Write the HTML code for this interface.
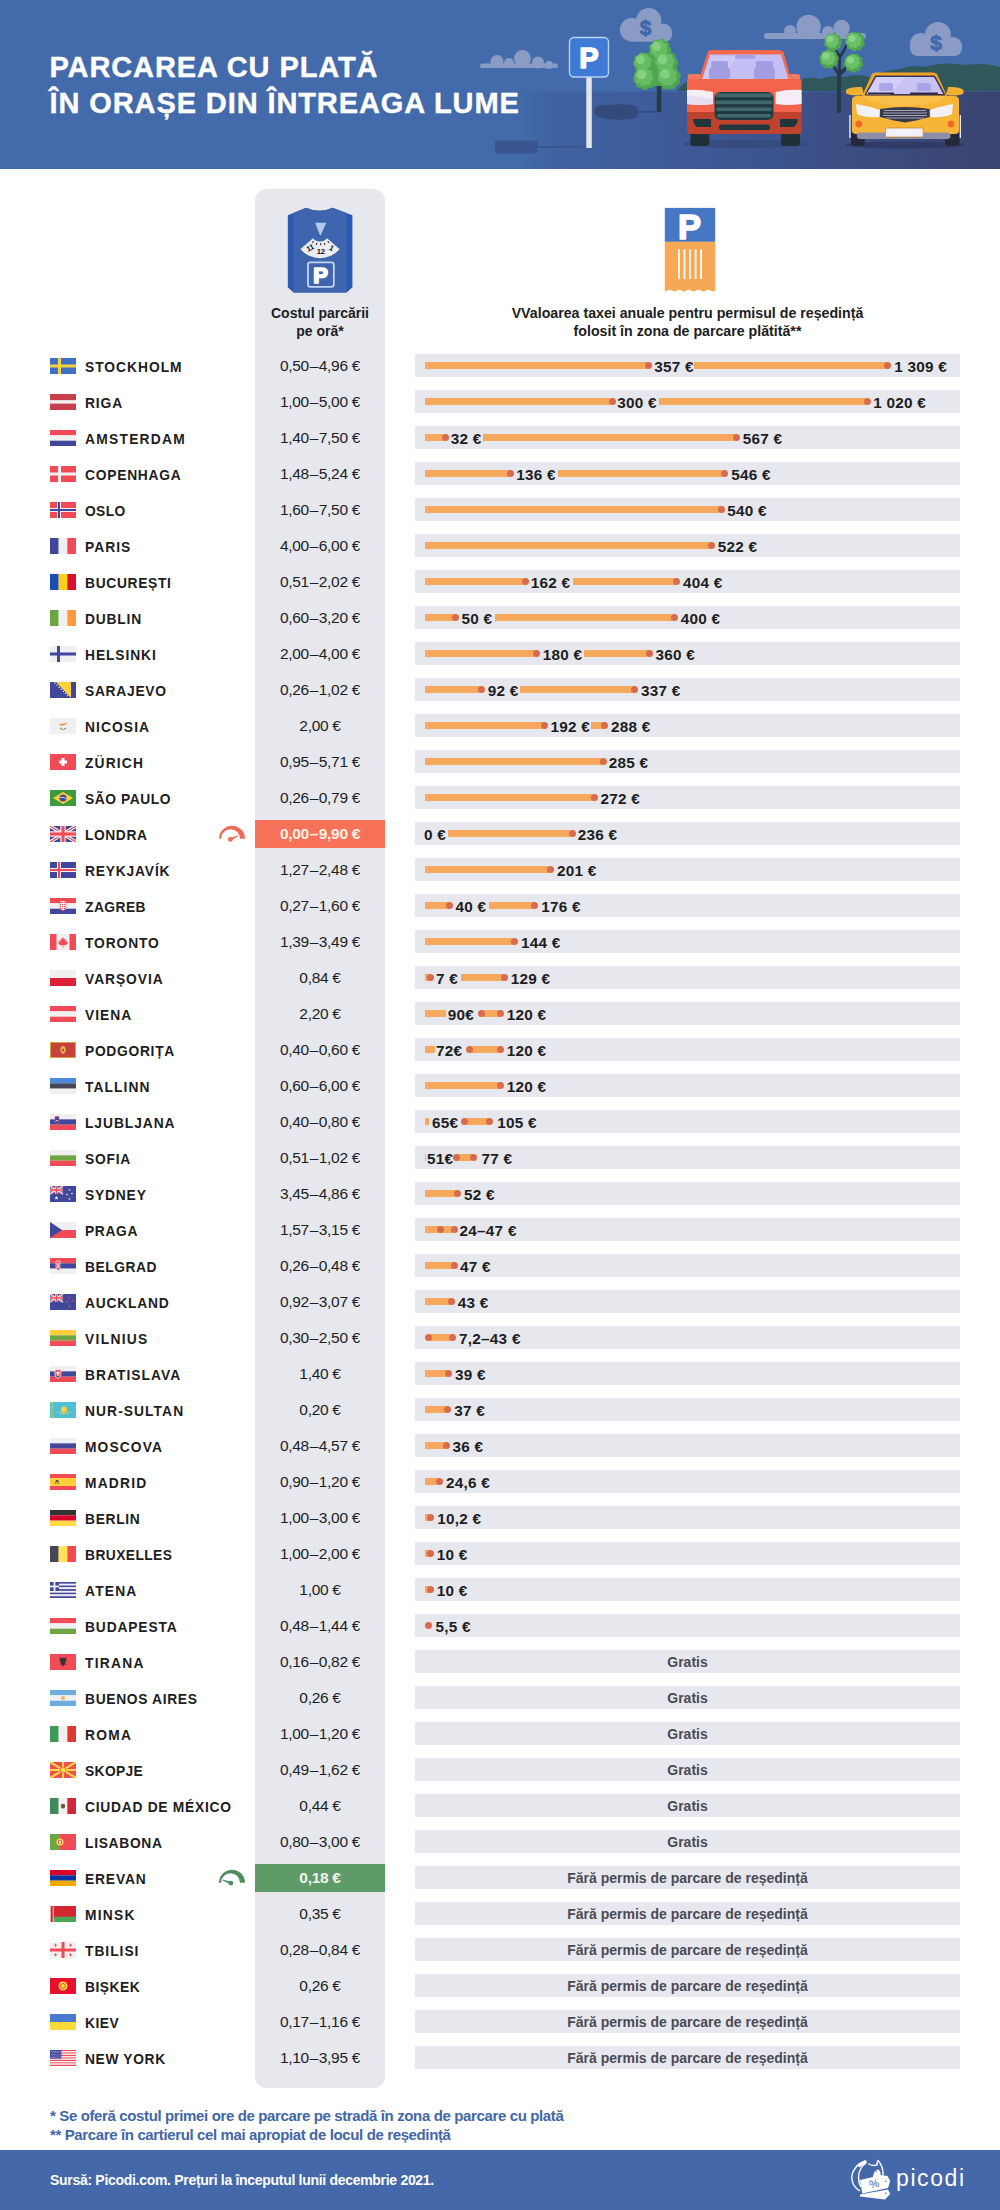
<!DOCTYPE html>
<html lang="ro"><head><meta charset="utf-8"><title>Parcarea cu plată în orașe din întreaga lume</title>
<style>
*{margin:0;padding:0;box-sizing:border-box}
html,body{width:1000px;height:2210px;overflow:hidden;background:#fff}
body{font-family:"Liberation Sans",Arial,sans-serif;color:#1d1d22}
#pg{position:relative;width:1000px;height:2210px;background:#fff}
.hdr{position:absolute;left:0;top:0;width:1000px;height:169px;background:#436aaa;overflow:hidden}
.hdr svg{position:absolute;left:0;top:0}
.title{position:absolute;left:49.5px;top:48.8px;color:#fff;-webkit-text-stroke:0.4px #fff;font-weight:bold;font-size:29px;line-height:36px;letter-spacing:0.9px;white-space:nowrap}
.col{position:absolute;left:255px;top:189px;width:130px;height:1899px;background:#e7e8ed;border-radius:12px}
.disc{position:absolute;left:287px;top:207px;width:66px;height:86px}
.ticket{position:absolute;left:664px;top:207px;width:52px;height:86px}
.h1{position:absolute;left:255px;width:130px;top:303.8px;text-align:center;font-weight:bold;font-size:14px;line-height:18px;color:#1d1d22}
.h2{position:absolute;left:415px;width:545px;top:303.8px;text-align:center;font-weight:bold;font-size:14.2px;line-height:18px;color:#1d1d22}
.row{position:absolute;left:0;width:1000px;height:36px}
.flag{position:absolute;left:50px;top:10px}
.city{position:absolute;left:85px;top:0.6px;line-height:36px;font-weight:bold;font-size:15px;transform:scaleX(0.92);transform-origin:0 50%;letter-spacing:0.45px;white-space:nowrap}
.cost{position:absolute;left:255px;width:130px;top:-0.5px;line-height:36px;text-align:center;font-size:15.5px;letter-spacing:-0.3px;white-space:nowrap}
.cost.red{top:4px;height:28px;line-height:28px;background:#f87259;color:#fdf3e6;font-weight:bold}
.cost.green{top:4px;height:28px;line-height:28px;background:#5f9b69;color:#f2f5ee;font-weight:bold}
.gauge{position:absolute;left:214px;top:8px;width:36px;height:22px}
.band{position:absolute;left:415px;top:6.2px;width:545px;height:23.2px;background:#e7e8ed}
.bar{position:absolute;top:8px;height:6.4px;background:#f6a95c}
.dot{position:absolute;top:7.7px;width:7px;height:7px;border-radius:50%;background:#d96b4c}
.lbl{position:absolute;top:0.4px;margin-left:-0.8px;line-height:23px;font-weight:bold;font-size:15.3px;letter-spacing:0.25px;white-space:nowrap;color:#1d1d22}
.ctr{position:absolute;left:0;width:545px;top:1px;line-height:23px;text-align:center;font-weight:bold;font-size:14px;color:#4a4b55}
.notes{position:absolute;left:50px;top:2105.5px;font-weight:bold;font-size:15px;line-height:19.5px;letter-spacing:-0.37px;color:#4266a6;white-space:nowrap}
.ftr{position:absolute;left:0;top:2150px;width:1000px;height:60px;background:#4468a9}
.src{position:absolute;left:50px;top:20px;line-height:20px;font-weight:bold;font-size:14px;letter-spacing:-0.3px;color:#fff;white-space:nowrap}
.logo{position:absolute;left:845px;top:5px;width:150px;height:50px}
.logo svg{position:absolute;left:0;top:0}
.logo span{position:absolute;left:51px;top:8px;font-size:23px;line-height:30px;color:#fff;letter-spacing:1.6px;font-weight:normal}
.d{margin:0 0.8px}

</style></head><body>
<div id="pg">
<div class="hdr"><svg width="1000" height="169" viewBox="0 0 1000 169">
<defs>
<linearGradient id="gnd" x1="0" y1="0" x2="1" y2="0">
<stop offset="0" stop-color="#436aaa" stop-opacity="0"/>
<stop offset="0.1" stop-color="#3f62a2" stop-opacity="1"/>
<stop offset="0.5" stop-color="#3c5590"/>
<stop offset="1" stop-color="#3a436f"/>
</linearGradient>
<linearGradient id="gnd2" x1="0" y1="0" x2="0" y2="1">
<stop offset="0" stop-color="#000" stop-opacity="0"/>
<stop offset="1" stop-color="#000" stop-opacity="0.06"/>
</linearGradient>
</defs>
<rect x="0" y="0" width="1000" height="169" fill="#436aaa"/>
<!-- clouds -->
<g fill="#8a9cc6"><circle cx="497" cy="61.5" r="6.5"/><circle cx="509" cy="63" r="5"/><circle cx="522.5" cy="58.5" r="8.5"/><circle cx="538" cy="62.5" r="6"/><circle cx="549" cy="65" r="4"/><rect x="480" y="63.5" width="78" height="4.5" rx="2.25"/></g>
<g fill="#8a9cc6"><circle cx="631.6" cy="29.7" r="11.7"/><circle cx="648.7" cy="20.7" r="12.6"/><circle cx="663" cy="32.4" r="9"/><rect x="626" y="28" width="46" height="13.799999999999997" rx="6.899999999999999"/></g>
<g fill="#8a9cc6"><circle cx="790" cy="31" r="6"/><circle cx="808.6" cy="27" r="12.2"/><circle cx="828" cy="32" r="6"/><circle cx="841.6" cy="28" r="8.2"/><rect x="764" y="33" width="102" height="6" rx="3.0"/></g>
<g fill="#8a9cc6"><circle cx="921" cy="44" r="11"/><circle cx="938" cy="35" r="13"/><circle cx="953" cy="46" r="9"/><rect x="910" y="40" width="52" height="16" rx="8.0"/></g>
<text x="645.5" y="34.5" font-family="Liberation Sans, sans-serif" font-weight="bold" font-size="21" fill="#4068ad" stroke="#4068ad" stroke-width="0.8" text-anchor="middle">$</text>
<text x="936" y="50" font-family="Liberation Sans, sans-serif" font-weight="bold" font-size="21" fill="#4068ad" stroke="#4068ad" stroke-width="0.8" text-anchor="middle">$</text>
<!-- far hills -->
<path d="M677 91 Q683 82 692 80 L800 80 Q810 76 820 79 Q835 74 845 77 Q857 73 870 77 Q885 70 900 69 Q912 64 925 67 Q945 61 966 65 Q985 62 1000 67 L1000 91 Z" fill="#30585a"/>
<!-- ground -->
<rect x="505" y="91.5" width="495" height="78" fill="url(#gnd)"/>
<!-- sign shadow -->
<rect x="495" y="140.5" width="43" height="13" rx="2" fill="#3a5590"/>
<rect x="537" y="146" width="50" height="2" fill="#3a5590"/>
<!-- tree shadow -->
<path d="M594 108 Q600 104 612 105 Q625 103 636 106 Q640 112 636 118 Q622 121 608 119 Q596 118 594 113 Z" fill="#34497c"/>
<rect x="636" y="111" width="24" height="1.6" fill="#34497c"/>
<!-- sign -->
<rect x="586.3" y="77" width="5.5" height="71" fill="#e4e4ea"/>
<rect x="569.5" y="37.5" width="39" height="39.5" rx="4.5" fill="#3f7ad6" stroke="#b9d2f6" stroke-width="1.4"/>
<text x="589" y="68.3" font-family="Liberation Sans, sans-serif" font-weight="bold" font-size="29" fill="#fff" stroke="#fff" stroke-width="1.5" stroke-linejoin="round" text-anchor="middle">P</text>
<!-- tree 1 -->
<rect x="656.8" y="85" width="4.5" height="27" fill="#253a4a"/>
<g fill="#4fa650"><path d="M640 70 L660 45 L676 70 L676 86 L640 86 Z"/><circle cx="660.0" cy="50.0" r="9.6"/><circle cx="667.7" cy="50.0" r="3.6"/><circle cx="665.9" cy="54.9" r="3.6"/><circle cx="661.3" cy="57.6" r="3.6"/><circle cx="656.2" cy="56.7" r="3.6"/><circle cx="652.8" cy="52.6" r="3.6"/><circle cx="652.8" cy="47.4" r="3.6"/><circle cx="656.2" cy="43.3" r="3.6"/><circle cx="661.3" cy="42.4" r="3.6"/><circle cx="665.9" cy="45.1" r="3.6"/><circle cx="644.0" cy="63.0" r="9.3"/><circle cx="648.0" cy="69.3" r="3.5"/><circle cx="643.1" cy="70.4" r="3.5"/><circle cx="638.5" cy="68.1" r="3.5"/><circle cx="636.5" cy="63.4" r="3.5"/><circle cx="638.0" cy="58.5" r="3.5"/><circle cx="642.4" cy="55.7" r="3.5"/><circle cx="647.4" cy="56.4" r="3.5"/><circle cx="650.9" cy="60.1" r="3.5"/><circle cx="651.1" cy="65.2" r="3.5"/><circle cx="666.0" cy="63.0" r="10.5"/><circle cx="662.5" cy="70.6" r="3.9"/><circle cx="658.4" cy="66.6" r="3.9"/><circle cx="657.9" cy="60.9" r="3.9"/><circle cx="661.2" cy="56.2" r="3.9"/><circle cx="666.7" cy="54.7" r="3.9"/><circle cx="671.9" cy="57.0" r="3.9"/><circle cx="674.3" cy="62.2" r="3.9"/><circle cx="672.9" cy="67.7" r="3.9"/><circle cx="668.2" cy="71.1" r="3.9"/><circle cx="645.0" cy="78.0" r="10.2"/><circle cx="636.9" cy="79.2" r="3.8"/><circle cx="638.1" cy="73.7" r="3.8"/><circle cx="642.5" cy="70.2" r="3.8"/><circle cx="648.0" cy="70.4" r="3.8"/><circle cx="652.2" cy="74.2" r="3.8"/><circle cx="653.0" cy="79.7" r="3.8"/><circle cx="650.0" cy="84.4" r="3.8"/><circle cx="644.7" cy="86.2" r="3.8"/><circle cx="639.6" cy="84.1" r="3.8"/><circle cx="668.5" cy="77.5" r="10.6"/><circle cx="662.9" cy="71.1" r="4.0"/><circle cx="668.4" cy="69.0" r="4.0"/><circle cx="673.9" cy="70.9" r="4.0"/><circle cx="676.8" cy="75.9" r="4.0"/><circle cx="675.9" cy="81.6" r="4.0"/><circle cx="671.5" cy="85.4" r="4.0"/><circle cx="665.7" cy="85.5" r="4.0"/><circle cx="661.2" cy="81.9" r="4.0"/><circle cx="660.1" cy="76.1" r="4.0"/></g>
<g fill="#66bb63"><circle cx="658.8" cy="48.8" r="7.7"/><circle cx="664.7" cy="50.6" r="2.9"/><circle cx="661.7" cy="54.2" r="2.9"/><circle cx="657.0" cy="54.7" r="2.9"/><circle cx="653.4" cy="51.7" r="2.9"/><circle cx="652.9" cy="47.0" r="2.9"/><circle cx="655.9" cy="43.4" r="2.9"/><circle cx="660.6" cy="42.9" r="2.9"/><circle cx="664.2" cy="45.9" r="2.9"/><circle cx="642.8" cy="61.8" r="7.5"/><circle cx="644.4" cy="67.6" r="2.8"/><circle cx="639.9" cy="67.0" r="2.8"/><circle cx="637.0" cy="63.4" r="2.8"/><circle cx="637.6" cy="58.9" r="2.8"/><circle cx="641.2" cy="56.0" r="2.8"/><circle cx="645.7" cy="56.6" r="2.8"/><circle cx="648.6" cy="60.2" r="2.8"/><circle cx="648.0" cy="64.7" r="2.8"/><circle cx="664.8" cy="61.8" r="8.4"/><circle cx="660.3" cy="66.8" r="3.1"/><circle cx="658.1" cy="62.2" r="3.1"/><circle cx="659.8" cy="57.3" r="3.1"/><circle cx="664.4" cy="55.1" r="3.1"/><circle cx="669.3" cy="56.8" r="3.1"/><circle cx="671.5" cy="61.4" r="3.1"/><circle cx="669.8" cy="66.3" r="3.1"/><circle cx="665.2" cy="68.5" r="3.1"/><circle cx="643.8" cy="76.8" r="8.2"/><circle cx="637.4" cy="75.8" r="3.1"/><circle cx="640.0" cy="71.5" r="3.1"/><circle cx="644.8" cy="70.4" r="3.1"/><circle cx="649.1" cy="73.0" r="3.1"/><circle cx="650.2" cy="77.8" r="3.1"/><circle cx="647.6" cy="82.1" r="3.1"/><circle cx="642.8" cy="83.2" r="3.1"/><circle cx="638.5" cy="80.6" r="3.1"/><circle cx="667.3" cy="76.3" r="8.5"/><circle cx="664.6" cy="70.1" r="3.2"/><circle cx="669.8" cy="70.0" r="3.2"/><circle cx="673.5" cy="73.6" r="3.2"/><circle cx="673.6" cy="78.8" r="3.2"/><circle cx="670.0" cy="82.5" r="3.2"/><circle cx="664.8" cy="82.6" r="3.2"/><circle cx="661.1" cy="79.0" r="3.2"/><circle cx="661.0" cy="73.8" r="3.2"/></g>
<g fill="#84d080"><circle cx="656.5" cy="46.5" r="4.5"/><circle cx="640.5" cy="59.5" r="4.4"/><circle cx="662.5" cy="59.5" r="4.9"/><circle cx="641.5" cy="74.5" r="4.8"/><circle cx="665.0" cy="74.0" r="5.0"/></g>
<!-- tree 2 -->
<path d="M837 113 L837 74 L828 62 L830 60 L838 70 L838 56 L832 47 L834 46 L840 54 L846 44 L848 46 L841 58 L841 70 L850 63 L851 65 L841 76 L841 113 Z" fill="#253a4a"/>
<g fill="#4fa650"><circle cx="833.0" cy="42.0" r="7.6"/><circle cx="839.1" cy="42.0" r="2.9"/><circle cx="837.7" cy="45.9" r="2.9"/><circle cx="834.1" cy="48.0" r="2.9"/><circle cx="829.9" cy="47.3" r="2.9"/><circle cx="827.2" cy="44.1" r="2.9"/><circle cx="827.2" cy="39.9" r="2.9"/><circle cx="829.9" cy="36.7" r="2.9"/><circle cx="834.1" cy="36.0" r="2.9"/><circle cx="837.7" cy="38.1" r="2.9"/><circle cx="855.0" cy="41.5" r="8.5"/><circle cx="858.7" cy="47.2" r="3.2"/><circle cx="854.1" cy="48.2" r="3.2"/><circle cx="850.0" cy="46.1" r="3.2"/><circle cx="848.2" cy="41.8" r="3.2"/><circle cx="849.6" cy="37.4" r="3.2"/><circle cx="853.5" cy="34.9" r="3.2"/><circle cx="858.1" cy="35.5" r="3.2"/><circle cx="861.3" cy="38.9" r="3.2"/><circle cx="861.5" cy="43.5" r="3.2"/><circle cx="829.0" cy="59.0" r="8.3"/><circle cx="826.2" cy="65.1" r="3.1"/><circle cx="823.0" cy="61.9" r="3.1"/><circle cx="822.6" cy="57.3" r="3.1"/><circle cx="825.1" cy="53.6" r="3.1"/><circle cx="829.5" cy="52.4" r="3.1"/><circle cx="833.7" cy="54.3" r="3.1"/><circle cx="835.6" cy="58.4" r="3.1"/><circle cx="834.5" cy="62.8" r="3.1"/><circle cx="830.8" cy="65.4" r="3.1"/><circle cx="853.5" cy="63.0" r="8.2"/><circle cx="847.0" cy="63.9" r="3.1"/><circle cx="848.0" cy="59.6" r="3.1"/><circle cx="851.5" cy="56.8" r="3.1"/><circle cx="855.9" cy="56.9" r="3.1"/><circle cx="859.3" cy="59.9" r="3.1"/><circle cx="859.9" cy="64.3" r="3.1"/><circle cx="857.5" cy="68.1" r="3.1"/><circle cx="853.3" cy="69.5" r="3.1"/><circle cx="849.1" cy="67.9" r="3.1"/></g>
<g fill="#6cc068"><circle cx="832.0" cy="41.0" r="6.0"/><circle cx="836.6" cy="42.4" r="2.2"/><circle cx="834.2" cy="45.2" r="2.2"/><circle cx="830.6" cy="45.6" r="2.2"/><circle cx="827.8" cy="43.2" r="2.2"/><circle cx="827.4" cy="39.6" r="2.2"/><circle cx="829.8" cy="36.8" r="2.2"/><circle cx="833.4" cy="36.4" r="2.2"/><circle cx="836.2" cy="38.8" r="2.2"/><circle cx="854.0" cy="40.5" r="6.6"/><circle cx="855.4" cy="45.6" r="2.5"/><circle cx="851.4" cy="45.1" r="2.5"/><circle cx="848.9" cy="41.9" r="2.5"/><circle cx="849.4" cy="37.9" r="2.5"/><circle cx="852.6" cy="35.4" r="2.5"/><circle cx="856.6" cy="35.9" r="2.5"/><circle cx="859.1" cy="39.1" r="2.5"/><circle cx="858.6" cy="43.1" r="2.5"/><circle cx="828.0" cy="58.0" r="6.5"/><circle cx="824.5" cy="61.9" r="2.4"/><circle cx="822.8" cy="58.3" r="2.4"/><circle cx="824.1" cy="54.5" r="2.4"/><circle cx="827.7" cy="52.8" r="2.4"/><circle cx="831.5" cy="54.1" r="2.4"/><circle cx="833.2" cy="57.7" r="2.4"/><circle cx="831.9" cy="61.5" r="2.4"/><circle cx="828.3" cy="63.2" r="2.4"/><circle cx="852.5" cy="62.0" r="6.4"/><circle cx="847.5" cy="61.2" r="2.4"/><circle cx="849.5" cy="57.9" r="2.4"/><circle cx="853.3" cy="57.0" r="2.4"/><circle cx="856.6" cy="59.0" r="2.4"/><circle cx="857.5" cy="62.8" r="2.4"/><circle cx="855.5" cy="66.1" r="2.4"/><circle cx="851.7" cy="67.0" r="2.4"/><circle cx="848.4" cy="65.0" r="2.4"/></g>
<g fill="#8ad486"><circle cx="830.0" cy="39.0" r="3.2"/><circle cx="852.0" cy="38.5" r="3.6"/><circle cx="826.0" cy="56.0" r="3.5"/><circle cx="850.5" cy="60.0" r="3.5"/></g>
<!-- red car shadow -->
<ellipse cx="745" cy="144" rx="62" ry="4" fill="#34487a" opacity="0.8"/>
<!-- red car -->
<g>
<rect x="690.4" y="128" width="19" height="18" rx="3" fill="#1f3038"/>
<rect x="781" y="128" width="19" height="18" rx="3" fill="#1f3038"/>
<path d="M708 51.5 Q709 50 712 50 L778 50 Q782 50 783.5 52 L791 79 L699 79 Z" fill="#f56a4c"/>
<path d="M710 54.5 L781 54.5 L788.5 79 L702 79 Z" fill="#c4bff5"/>
<path d="M712 56 L738 56 L720 79 L703 79 Z" fill="#d6d2fa" opacity="0.6"/>
<rect x="735" y="55" width="20" height="3.5" rx="1" fill="#a49fe6"/>
<rect x="711" y="61" width="17" height="8" rx="2" fill="#a39de2"/>
<rect x="709" y="68" width="21" height="11" rx="2" fill="#a39de2"/>
<rect x="756" y="61" width="17" height="8" rx="2" fill="#a39de2"/>
<rect x="754" y="68" width="21" height="11" rx="2" fill="#a39de2"/>
<rect x="687.8" y="74" width="13" height="7.5" rx="2.5" fill="#f47a5e"/>
<rect x="788" y="74" width="12" height="7.5" rx="2.5" fill="#f47a5e"/>
<rect x="687" y="79" width="114.6" height="34" rx="2" fill="#f2644b"/>
<path d="M687 112 L801.6 112 L801.6 131 Q801.6 134 798 134 L690 134 Q687 134 687 131 Z" fill="#bf422f"/>
<path d="M687 90 Q700 89 713 92 L713 104 Q700 106 687 104 Z" fill="#f6eef6"/>
<path d="M801.6 90 Q788 89 775.6 92 L775.6 104 Q788 106 801.6 104 Z" fill="#f6eef6"/>
<path d="M687 96 Q700 96 713 99 L713 104 Q700 106 687 104 Z" fill="#e8def0"/>
<rect x="714.5" y="92" width="59" height="28" rx="6" fill="#1f3a40"/>
<g fill="#42696a">
<rect x="716" y="93.4" width="56" height="3.8" rx="1.5"/><rect x="715.5" y="100.5" width="57" height="3.8" rx="1.5"/><rect x="716" y="107.4" width="56" height="3.6" rx="1.5"/><rect x="717" y="114" width="54" height="3.4" rx="1.5"/>
</g>
<path d="M693 119 L711 119 L711 127 L697 127 Q693 124 693 119 Z" fill="#20363c"/>
<path d="M797.7 119 L780 119 L780 127 L793.7 127 Q797.7 124 797.7 119 Z" fill="#20363c"/>
<rect x="719" y="124.5" width="51" height="5.5" rx="2.5" fill="#20363c"/>
</g>
<!-- yellow car shadow -->
<ellipse cx="905" cy="145" rx="60" ry="3.5" fill="#2f3763" opacity="0.8"/>
<!-- yellow car -->
<g>
<rect x="851" y="132" width="13.7" height="14" rx="3" fill="#252838"/>
<rect x="945" y="132" width="14.6" height="14" rx="3" fill="#252838"/>
<rect x="849.2" y="115" width="1.4" height="23" fill="#e8e8f0"/>
<rect x="959.6" y="115" width="1.4" height="23" fill="#e8e8f0"/>
<path d="M872 74 Q873 72.5 876 72.5 L933 72.5 Q936 72.5 937 74 L947 96 L862 96 Z" fill="#f0a42a"/>
<path d="M875.5 76.3 L934.5 76.3 L944.5 94.7 L865.5 94.7 Z" fill="#c9c3f4" stroke="#3a3550" stroke-width="1.5" stroke-linejoin="round"/>
<path d="M878 77 L905 77 L890 94.5 L866 94.5 Z" fill="#dad6fb" opacity="0.6"/>
<rect x="879" y="83" width="14" height="8" rx="2" fill="#aaa4e8"/>
<rect x="917" y="83" width="14" height="8" rx="2" fill="#aaa4e8"/>
<rect x="868" y="92.5" width="26" height="1.6" fill="#2c2840"/>
<rect x="910" y="92.5" width="28" height="1.6" fill="#2c2840"/>
<path d="M846 90 Q850 86.5 862 87 L864 95 Q852 96.5 846 93.5 Z" fill="#f2b030"/>
<path d="M963.5 90 Q960 86.5 948 87 L946 95 Q958 96.5 963.5 93.5 Z" fill="#f2b030"/>
<path d="M852 100 Q852 96 857 96 L954 96 Q959 96 959 100 L959 130 Q959 134 955 134 L856 134 Q852 134 852 130 Z" fill="#f6b536"/>
<path d="M862 96 L947 96 Q940 104 905 106 Q870 104 862 96 Z" fill="#f8c04a"/>
<path d="M856 104 Q868 106 880 110 L879 117 Q866 118 857 114 Z" fill="#f4f0fa"/>
<path d="M953 104 Q941 106 929.7 110 L930.5 117 Q943 118 952 114 Z" fill="#f4f0fa"/>
<path d="M880 109 Q905 105 929.7 109 L929.7 117 Q915 121 905 122.5 Q895 121 880 117 Z" fill="#3a3a4c"/>
<g fill="#9ca2b8"><rect x="884" y="110" width="42" height="1"/><rect x="883" y="112.5" width="44" height="1"/><rect x="883" y="115" width="44" height="1"/><rect x="886" y="117.5" width="38" height="1"/></g>
<circle cx="858.9" cy="124" r="3.4" fill="#ee6a2a"/>
<circle cx="951" cy="124" r="3.4" fill="#ee6a2a"/>
<rect x="857" y="132.6" width="93.5" height="6.5" rx="3" fill="#8c90a6"/>
<rect x="885.5" y="128" width="37.7" height="9" rx="1" fill="#f3f0fb" stroke="#c08a30" stroke-width="0.8"/>
</g>
</svg><div class="title">PARCAREA CU PLATĂ<br>ÎN ORAȘE DIN ÎNTREAGA LUME</div></div>
<div class="col"></div>
<div class="disc"><svg width="66" height="86" viewBox="0 0 66 86">
<path d="M0.8 8.2 L19.2 0.7 Q32.5 7 45.5 0.7 L65.4 8.2 L65.4 80.2 L59.7 85.4 L6.5 85.4 L0.8 80.2 Z" fill="#2b5ab4"/>
<path d="M6.5 6 L19.2 0.7 Q32.5 7 45.5 0.7 L59.5 6 L59.5 85.4 L6.5 85.4 Z" fill="#3f65ae"/>
<polygon points="28.1,15.8 39.3,15.8 33.3,29.1" fill="#b3cbf1"/>
<path d="M25.98 31.3 A9.3 9.3 0 0 0 40.02 31.3 L52.63 42.26 A26 26 0 0 1 13.37 42.26 Z" fill="#ececf2"/>
<g stroke="#111" stroke-width="0.9" fill="none" stroke-linecap="round">
<path d="M26.3 34.3 L25.5 35.8 M29.8 36.2 L29.4 37.6 M33.7 36.4 L33.7 37.9 M37.5 36.2 L37.9 37.6 M40.9 34.3 L41.7 35.8"/>
</g>
<text x="23" y="43.5" font-family="Liberation Sans, sans-serif" font-weight="bold" font-size="7.6" fill="#111" text-anchor="middle" transform="rotate(-28 23 41)" letter-spacing="-0.3">11</text>
<text x="33.8" y="46.8" font-family="Liberation Sans, sans-serif" font-weight="bold" font-size="7.6" fill="#111" text-anchor="middle" letter-spacing="-0.3">12</text>
<text x="44.5" y="43.5" font-family="Liberation Sans, sans-serif" font-weight="bold" font-size="7.6" fill="#111" text-anchor="middle" transform="rotate(28 44.5 41)">1</text>
<rect x="21" y="55.4" width="25.8" height="24.4" rx="2.2" fill="none" stroke="#c3d6f5" stroke-width="1.8"/>
<text x="33.6" y="75.6" font-family="Liberation Sans, sans-serif" font-weight="bold" font-size="22" fill="#fff" stroke="#fff" stroke-width="1.7" stroke-linejoin="round" text-anchor="middle">P</text>
</svg></div>
<div class="ticket"><svg width="52" height="86" viewBox="0 0 52 86">
<rect x="0.8" y="0.9" width="50.4" height="34" fill="#4577c5"/>
<path d="M0.8 34.8 L51.2 34.8 L51.2 83.6 Q49 85.6 46.4 83.6 Q44 81.8 41.6 83.6 Q39.2 85.6 36.8 83.6 Q34.4 81.8 32 83.6 Q29.6 85.6 27.2 83.6 Q24.8 81.8 22.4 83.6 Q20 85.6 17.6 83.6 Q15.2 81.8 12.8 83.6 Q10.4 85.6 8 83.6 Q5.6 81.8 3.2 83.6 Q1.8 84.6 0.8 83.6 Z" fill="#f6a854"/>
<text x="25.6" y="31.8" font-family="Liberation Sans, sans-serif" font-weight="bold" font-size="34.5" fill="#fff" stroke="#fff" stroke-width="1.6" stroke-linejoin="round" text-anchor="middle">P</text>
<g fill="#fff9f2"><rect x="14" y="42.3" width="1.9" height="29.8"/><rect x="19.5" y="42.3" width="1.9" height="29.8"/><rect x="25.1" y="42.3" width="1.9" height="29.8"/><rect x="30.7" y="42.3" width="1.9" height="29.8"/><rect x="36.1" y="42.3" width="1.9" height="29.8"/></g>
</svg></div>
<div class="h1">Costul parcării<br>pe oră*</div>
<div class="h2">VValoarea taxei anuale pentru permisul de reședință<br>folosit în zona de parcare plătită**</div>
<div class="row" style="top:348px"><svg class="flag" width="26" height="16" viewBox="0 0 26 16"><rect width="26" height="16" fill="#3f6fc6"/><rect x="8" y="0" width="3" height="16" fill="#f7d23e"/><rect x="0" y="6.5" width="26" height="3" fill="#f7d23e"/></svg><div class="city" style="letter-spacing:1.07px">STOCKHOLM</div><div class="cost">0,50<span class="d">–</span>4,96 €</div><div class="band"><i class="bar" style="left:10.0px;width:223.0px"></i><i class="bar" style="left:279.0px;width:193.0px"></i><i class="dot" style="left:229.5px"></i><i class="dot" style="left:468.5px"></i><b class="lbl" style="left:240.0px">357 €</b><b class="lbl" style="left:480.0px">1 309 €</b></div></div>
<div class="row" style="top:384px"><svg class="flag" width="26" height="16" viewBox="0 0 26 16"><rect x="0" y="0.00" width="26" height="6.42" fill="#c5404a"/><rect x="0" y="6.40" width="26" height="3.22" fill="#f0f0f2"/><rect x="0" y="9.60" width="26" height="6.42" fill="#c5404a"/></svg><div class="city" style="letter-spacing:0.95px">RIGA</div><div class="cost">1,00<span class="d">–</span>5,00 €</div><div class="band"><i class="bar" style="left:10.0px;width:187.0px"></i><i class="bar" style="left:244.0px;width:208.0px"></i><i class="dot" style="left:193.5px"></i><i class="dot" style="left:448.5px"></i><b class="lbl" style="left:203.0px">300 €</b><b class="lbl" style="left:459.0px">1 020 €</b></div></div>
<div class="row" style="top:420px"><svg class="flag" width="26" height="16" viewBox="0 0 26 16"><rect x="0" y="0.00" width="26" height="5.35" fill="#f24b56"/><rect x="0" y="5.33" width="26" height="5.35" fill="#f0f0f2"/><rect x="0" y="10.67" width="26" height="5.35" fill="#41479b"/></svg><div class="city" style="letter-spacing:1.37px">AMSTERDAM</div><div class="cost">1,40<span class="d">–</span>7,50 €</div><div class="band"><i class="bar" style="left:10.0px;width:20.0px"></i><i class="bar" style="left:68.0px;width:253.5px"></i><i class="dot" style="left:26.5px"></i><i class="dot" style="left:318.0px"></i><b class="lbl" style="left:36.5px">32 €</b><b class="lbl" style="left:328.6px">567 €</b></div></div>
<div class="row" style="top:456px"><svg class="flag" width="26" height="16" viewBox="0 0 26 16"><rect width="26" height="16" fill="#f24b56"/><rect x="8" y="0" width="3" height="16" fill="#f0f0f2"/><rect x="0" y="6.5" width="26" height="3" fill="#f0f0f2"/></svg><div class="city" style="letter-spacing:0.82px">COPENHAGA</div><div class="cost">1,48<span class="d">–</span>5,24 €</div><div class="band"><i class="bar" style="left:10.0px;width:85.0px"></i><i class="bar" style="left:143.0px;width:166.5px"></i><i class="dot" style="left:91.5px"></i><i class="dot" style="left:306.0px"></i><b class="lbl" style="left:102.0px">136 €</b><b class="lbl" style="left:317.0px">546 €</b></div></div>
<div class="row" style="top:492px"><svg class="flag" width="26" height="16" viewBox="0 0 26 16"><rect width="26" height="16" fill="#f24b56"/><rect x="7" y="0" width="4" height="16" fill="#f0f0f2"/><rect x="0" y="6.0" width="26" height="4" fill="#f0f0f2"/><rect x="8.0" y="0" width="2" height="16" fill="#41479b"/><rect x="0" y="7.0" width="26" height="2" fill="#41479b"/></svg><div class="city" style="letter-spacing:0.42px">OSLO</div><div class="cost">1,60<span class="d">–</span>7,50 €</div><div class="band"><i class="bar" style="left:10.0px;width:296.0px"></i><i class="dot" style="left:302.5px"></i><b class="lbl" style="left:313.0px">540 €</b></div></div>
<div class="row" style="top:528px"><svg class="flag" width="26" height="16" viewBox="0 0 26 16"><rect x="0.00" y="0" width="8.69" height="16" fill="#41479b"/><rect x="8.67" y="0" width="8.69" height="16" fill="#f0f0f2"/><rect x="17.33" y="0" width="8.69" height="16" fill="#f24b56"/></svg><div class="city" style="letter-spacing:1.12px">PARIS</div><div class="cost">4,00<span class="d">–</span>6,00 €</div><div class="band"><i class="bar" style="left:10.0px;width:286.5px"></i><i class="dot" style="left:293.0px"></i><b class="lbl" style="left:303.5px">522 €</b></div></div>
<div class="row" style="top:564px"><svg class="flag" width="26" height="16" viewBox="0 0 26 16"><rect x="0.00" y="0" width="8.69" height="16" fill="#1a4fb0"/><rect x="8.67" y="0" width="8.69" height="16" fill="#fcd116"/><rect x="17.33" y="0" width="8.69" height="16" fill="#d8102c"/></svg><div class="city" style="letter-spacing:0.74px">BUCUREȘTI</div><div class="cost">0,51<span class="d">–</span>2,02 €</div><div class="band"><i class="bar" style="left:10.0px;width:100.6px"></i><i class="bar" style="left:157.5px;width:104.1px"></i><i class="dot" style="left:107.1px"></i><i class="dot" style="left:258.1px"></i><b class="lbl" style="left:116.6px">162 €</b><b class="lbl" style="left:268.7px">404 €</b></div></div>
<div class="row" style="top:600px"><svg class="flag" width="26" height="16" viewBox="0 0 26 16"><rect x="0.00" y="0" width="8.69" height="16" fill="#6da544"/><rect x="8.67" y="0" width="8.69" height="16" fill="#f0f0f2"/><rect x="17.33" y="0" width="8.69" height="16" fill="#ff9a3e"/></svg><div class="city" style="letter-spacing:0.89px">DUBLIN</div><div class="cost">0,60<span class="d">–</span>3,20 €</div><div class="band"><i class="bar" style="left:10.0px;width:30.3px"></i><i class="bar" style="left:79.6px;width:179.8px"></i><i class="dot" style="left:36.8px"></i><i class="dot" style="left:255.9px"></i><b class="lbl" style="left:47.4px">50 €</b><b class="lbl" style="left:266.5px">400 €</b></div></div>
<div class="row" style="top:636px"><svg class="flag" width="26" height="16" viewBox="0 0 26 16"><rect width="26" height="16" fill="#f0f0f2"/><rect x="7" y="0" width="3" height="16" fill="#41479b"/><rect x="0" y="6.5" width="26" height="3" fill="#41479b"/></svg><div class="city" style="letter-spacing:0.99px">HELSINKI</div><div class="cost">2,00<span class="d">–</span>4,00 €</div><div class="band"><i class="bar" style="left:10.0px;width:111.5px"></i><i class="bar" style="left:169.0px;width:65.9px"></i><i class="dot" style="left:118.0px"></i><i class="dot" style="left:231.4px"></i><b class="lbl" style="left:128.6px">180 €</b><b class="lbl" style="left:241.4px">360 €</b></div></div>
<div class="row" style="top:672px"><svg class="flag" width="26" height="16" viewBox="0 0 26 16"><rect width="26" height="16" fill="#41479b"/><polygon points="6,0 21,0 21,16" fill="#ffd03a"/><circle cx="5.0" cy="1.0" r="0.7" fill="#fff"/><circle cx="7.1" cy="3.1" r="0.7" fill="#fff"/><circle cx="9.2" cy="5.2" r="0.7" fill="#fff"/><circle cx="11.3" cy="7.3" r="0.7" fill="#fff"/><circle cx="13.4" cy="9.4" r="0.7" fill="#fff"/><circle cx="15.5" cy="11.5" r="0.7" fill="#fff"/><circle cx="17.6" cy="13.6" r="0.7" fill="#fff"/></svg><div class="city" style="letter-spacing:0.79px">SARAJEVO</div><div class="cost">0,26<span class="d">–</span>1,02 €</div><div class="band"><i class="bar" style="left:10.0px;width:56.5px"></i><i class="bar" style="left:104.6px;width:115.0px"></i><i class="dot" style="left:63.0px"></i><i class="dot" style="left:216.1px"></i><b class="lbl" style="left:73.6px">92 €</b><b class="lbl" style="left:226.7px">337 €</b></div></div>
<div class="row" style="top:708px"><svg class="flag" width="26" height="16" viewBox="0 0 26 16"><rect width="26" height="16" fill="#f0f0f2"/><path d="M9 6.5 Q11 5 14 5.5 Q16.5 5 17.5 4 Q17 6 15 7 Q12 8 10 7.5 Z" fill="#f0a040"/><path d="M10 10 Q13 12 13 11.5 M16 10 Q13 12 13 11.5" stroke="#6da544" stroke-width="1.1" fill="none"/></svg><div class="city" style="letter-spacing:1.18px">NICOSIA</div><div class="cost">2,00 €</div><div class="band"><i class="bar" style="left:10.0px;width:119.2px"></i><i class="bar" style="left:175.5px;width:14.1px"></i><i class="dot" style="left:125.7px"></i><i class="dot" style="left:186.1px"></i><b class="lbl" style="left:136.2px">192 €</b><b class="lbl" style="left:196.7px">288 €</b></div></div>
<div class="row" style="top:744px"><svg class="flag" width="26" height="16" viewBox="0 0 26 16"><rect width="26" height="16" fill="#f24b56"/><rect x="11.5" y="4" width="3" height="8" fill="#fff"/><rect x="9" y="6.5" width="8" height="3" fill="#fff"/></svg><div class="city" style="letter-spacing:1.25px">ZÜRICH</div><div class="cost">0,95<span class="d">–</span>5,71 €</div><div class="band"><i class="bar" style="left:10.0px;width:178.0px"></i><i class="dot" style="left:184.5px"></i><b class="lbl" style="left:194.5px">285 €</b></div></div>
<div class="row" style="top:780px"><svg class="flag" width="26" height="16" viewBox="0 0 26 16"><rect width="26" height="16" fill="#3d9a3f"/><polygon points="13,2 23,8 13,14 3,8" fill="#ffd03a"/><circle cx="13" cy="8" r="3.6" fill="#41479b"/><path d="M9.6 7.5 Q13 6.6 16.4 8.6" stroke="#fff" stroke-width="0.7" fill="none"/></svg><div class="city" style="letter-spacing:0.62px">SÃO PAULO</div><div class="cost">0,26<span class="d">–</span>0,79 €</div><div class="band"><i class="bar" style="left:10.0px;width:169.8px"></i><i class="dot" style="left:176.3px"></i><b class="lbl" style="left:186.4px">272 €</b></div></div>
<div class="row" style="top:816px"><svg class="flag" width="26" height="16" viewBox="0 0 26 16"><rect width="26" height="16" fill="#41479b"/><path d="M0 0 L26 16 M26 0 L0 16" stroke="#fff" stroke-width="3.2"/><path d="M0 0 L26 16 M26 0 L0 16" stroke="#f24b56" stroke-width="1.1428571428571428"/><rect x="10.333333333333334" y="0" width="5.333333333333333" height="16" fill="#fff"/><rect x="0" y="5.333333333333334" width="26" height="5.333333333333333" fill="#fff"/><rect x="11.4" y="0" width="3.2" height="16" fill="#f24b56"/><rect x="0" y="6.4" width="26" height="3.2" fill="#f24b56"/></svg><div class="city" style="letter-spacing:0.63px">LONDRA</div><div class="cost red">0,00<span class="d">–</span>9,90 €</div><div class="gauge"><svg width="36" height="22" viewBox="0 0 36 22"><path d="M5 14.7 A13 13 0 0 1 31 14.7 L26 14.7 A9.5 9.5 0 0 0 7 14.7 Z" fill="#f06b57"/><circle cx="16.4" cy="15.4" r="2.4" fill="#f06b57"/><path d="M16.4 14.4 L23.6 12.0 L16.4 16.4 Z" fill="#f06b57" stroke="#f06b57" stroke-width="0.9" stroke-linejoin="round"/></svg></div><div class="band"><i class="bar" style="left:32.7px;width:124.3px"></i><i class="dot" style="left:153.5px"></i><b class="lbl" style="left:9.8px">0 €</b><b class="lbl" style="left:163.5px">236 €</b></div></div>
<div class="row" style="top:852px"><svg class="flag" width="26" height="16" viewBox="0 0 26 16"><rect width="26" height="16" fill="#41479b"/><rect x="7" y="0" width="4" height="16" fill="#f0f0f2"/><rect x="0" y="6.0" width="26" height="4" fill="#f0f0f2"/><rect x="8.0" y="0" width="2" height="16" fill="#f24b56"/><rect x="0" y="7.0" width="26" height="2" fill="#f24b56"/></svg><div class="city" style="letter-spacing:0.89px">REYKJAVÍK</div><div class="cost">1,27<span class="d">–</span>2,48 €</div><div class="band"><i class="bar" style="left:10.0px;width:125.7px"></i><i class="dot" style="left:132.2px"></i><b class="lbl" style="left:142.8px">201 €</b></div></div>
<div class="row" style="top:888px"><svg class="flag" width="26" height="16" viewBox="0 0 26 16"><rect x="0" y="0.00" width="26" height="5.35" fill="#f24b56"/><rect x="0" y="5.33" width="26" height="5.35" fill="#f0f0f2"/><rect x="0" y="10.67" width="26" height="5.35" fill="#41479b"/><path d="M10 3 L16 3 L16 9 Q16 12 13 12.5 Q10 12 10 9 Z" fill="#fff" stroke="#e04050" stroke-width="0.5"/><rect x="10" y="4" width="1" height="1" fill="#f24b56"/><rect x="12" y="4" width="1" height="1" fill="#f24b56"/><rect x="14" y="4" width="1" height="1" fill="#f24b56"/><rect x="10" y="6" width="1" height="1" fill="#f24b56"/><rect x="12" y="6" width="1" height="1" fill="#f24b56"/><rect x="14" y="6" width="1" height="1" fill="#f24b56"/><rect x="10" y="8" width="1" height="1" fill="#f24b56"/><rect x="12" y="8" width="1" height="1" fill="#f24b56"/><rect x="14" y="8" width="1" height="1" fill="#f24b56"/><rect x="10" y="10" width="1" height="1" fill="#f24b56"/><rect x="12" y="10" width="1" height="1" fill="#f24b56"/><rect x="14" y="10" width="1" height="1" fill="#f24b56"/></svg><div class="city" style="letter-spacing:0.49px">ZAGREB</div><div class="cost">0,27<span class="d">–</span>1,60 €</div><div class="band"><i class="bar" style="left:10.0px;width:24.3px"></i><i class="bar" style="left:73.6px;width:45.7px"></i><i class="dot" style="left:30.8px"></i><i class="dot" style="left:115.8px"></i><b class="lbl" style="left:41.4px">40 €</b><b class="lbl" style="left:127.0px">176 €</b></div></div>
<div class="row" style="top:924px"><svg class="flag" width="26" height="16" viewBox="0 0 26 16"><rect width="26" height="16" fill="#f0f0f2"/><rect width="6.5" height="16" fill="#f24b56"/><rect x="19.5" width="6.5" height="16" fill="#f24b56"/><path d="M13 3 L14.2 5.5 L15.8 4.8 L15.4 8 L17.6 6.6 L17 9 L18 9.5 L15 11.5 L13.4 11 L13.4 13.5 L12.6 13.5 L12.6 11 L11 11.5 L8 9.5 L9 9 L8.4 6.6 L10.6 8 L10.2 4.8 L11.8 5.5 Z" fill="#f24b56"/></svg><div class="city" style="letter-spacing:0.97px">TORONTO</div><div class="cost">1,39<span class="d">–</span>3,49 €</div><div class="band"><i class="bar" style="left:10.0px;width:89.7px"></i><i class="dot" style="left:96.2px"></i><b class="lbl" style="left:106.8px">144 €</b></div></div>
<div class="row" style="top:960px"><svg class="flag" width="26" height="16" viewBox="0 0 26 16"><rect width="26" height="8" fill="#f0f0f2"/><rect y="8" width="26" height="8" fill="#dc2035"/></svg><div class="city" style="letter-spacing:1.03px">VARȘOVIA</div><div class="cost">0,84 €</div><div class="band"><i class="bar" style="left:10.0px;width:5.3px"></i><i class="bar" style="left:45.8px;width:43.6px"></i><i class="dot" style="left:11.8px"></i><i class="dot" style="left:85.9px"></i><b class="lbl" style="left:21.8px">7 €</b><b class="lbl" style="left:96.5px">129 €</b></div></div>
<div class="row" style="top:996px"><svg class="flag" width="26" height="16" viewBox="0 0 26 16"><rect x="0" y="0.00" width="26" height="5.35" fill="#f24b56"/><rect x="0" y="5.33" width="26" height="5.35" fill="#f0f0f2"/><rect x="0" y="10.67" width="26" height="5.35" fill="#f24b56"/></svg><div class="city" style="letter-spacing:1.07px">VIENA</div><div class="cost">2,20 €</div><div class="band"><i class="bar" style="left:10.0px;width:21.3px"></i><i class="bar" style="left:66.0px;width:19.0px"></i><i class="dot" style="left:62.5px"></i><i class="dot" style="left:81.5px"></i><b class="lbl" style="left:33.5px">90€</b><b class="lbl" style="left:92.5px">120 €</b></div></div>
<div class="row" style="top:1032px"><svg class="flag" width="26" height="16" viewBox="0 0 26 16"><rect width="26" height="16" fill="#d4a43a"/><rect x="1" y="1" width="24" height="14" fill="#c5413b"/><path d="M11 5 Q13 3 15 5 L16 8 Q15 11 13 12 Q11 11 10 8 Z" fill="#e8b642"/><circle cx="13" cy="8" r="1.3" fill="#c5413b"/></svg><div class="city" style="letter-spacing:0.77px">PODGORIȚA</div><div class="cost">0,40<span class="d">–</span>0,60 €</div><div class="band"><i class="bar" style="left:10.0px;width:10.4px"></i><i class="bar" style="left:54.4px;width:30.6px"></i><i class="dot" style="left:50.9px"></i><i class="dot" style="left:81.5px"></i><b class="lbl" style="left:21.8px">72€</b><b class="lbl" style="left:92.5px">120 €</b></div></div>
<div class="row" style="top:1068px"><svg class="flag" width="26" height="16" viewBox="0 0 26 16"><rect x="0" y="0.00" width="26" height="5.35" fill="#4a8ad8"/><rect x="0" y="5.33" width="26" height="5.35" fill="#464655"/><rect x="0" y="10.67" width="26" height="5.35" fill="#f0f0f2"/></svg><div class="city" style="letter-spacing:1.17px">TALLINN</div><div class="cost">0,60<span class="d">–</span>6,00 €</div><div class="band"><i class="bar" style="left:10.0px;width:75.0px"></i><i class="dot" style="left:81.5px"></i><b class="lbl" style="left:92.5px">120 €</b></div></div>
<div class="row" style="top:1104px"><svg class="flag" width="26" height="16" viewBox="0 0 26 16"><rect x="0" y="0.00" width="26" height="5.35" fill="#f0f0f2"/><rect x="0" y="5.33" width="26" height="5.35" fill="#41479b"/><rect x="0" y="10.67" width="26" height="5.35" fill="#f24b56"/><path d="M5 2.5 L9 2.5 L9 6.5 Q9 9 7 9.8 Q5 9 5 6.5 Z" fill="#41479b" stroke="#f24b56" stroke-width="0.6"/><path d="M5.6 7.5 L7 6 L8.4 7.5" stroke="#fff" stroke-width="0.7" fill="none"/></svg><div class="city" style="letter-spacing:1.02px">LJUBLJANA</div><div class="cost">0,40<span class="d">–</span>0,80 €</div><div class="band"><i class="bar" style="left:10.0px;width:4.0px"></i><i class="bar" style="left:49.0px;width:25.8px"></i><i class="dot" style="left:45.5px"></i><i class="dot" style="left:71.3px"></i><b class="lbl" style="left:17.7px">65€</b><b class="lbl" style="left:83.0px">105 €</b></div></div>
<div class="row" style="top:1140px"><svg class="flag" width="26" height="16" viewBox="0 0 26 16"><rect x="0" y="0.00" width="26" height="5.35" fill="#f0f0f2"/><rect x="0" y="5.33" width="26" height="5.35" fill="#6da544"/><rect x="0" y="10.67" width="26" height="5.35" fill="#f24b56"/></svg><div class="city" style="letter-spacing:0.85px">SOFIA</div><div class="cost">0,51<span class="d">–</span>1,02 €</div><div class="band"><i class="bar" style="left:10.0px;width:1.4px"></i><i class="bar" style="left:41.6px;width:16.9px"></i><i class="dot" style="left:38.1px"></i><i class="dot" style="left:55.0px"></i><b class="lbl" style="left:12.8px">51€</b><b class="lbl" style="left:67.2px">77 €</b></div></div>
<div class="row" style="top:1176px"><svg class="flag" width="26" height="16" viewBox="0 0 26 16"><rect width="26" height="16" fill="#41479b"/><rect width="13" height="8" fill="#41479b"/><path d="M0 0 L13 8 M13 0 L0 8" stroke="#fff" stroke-width="1.6"/><path d="M0 0 L13 8 M13 0 L0 8" stroke="#f24b56" stroke-width="0.5714285714285714"/><rect x="5.166666666666667" y="0" width="2.6666666666666665" height="8" fill="#fff"/><rect x="0" y="2.666666666666667" width="13" height="2.6666666666666665" fill="#fff"/><rect x="5.7" y="0" width="1.6" height="8" fill="#f24b56"/><rect x="0" y="3.2" width="13" height="1.6" fill="#f24b56"/><polygon points="6.50,10.00 7.03,11.27 8.40,11.38 7.36,12.28 7.68,13.62 6.50,12.90 5.32,13.62 5.64,12.28 4.60,11.38 5.97,11.27" fill="#fff"/><polygon points="19.50,2.90 19.79,3.60 20.55,3.66 19.97,4.15 20.15,4.89 19.50,4.50 18.85,4.89 19.03,4.15 18.45,3.66 19.21,3.60" fill="#fff"/><polygon points="22.00,6.40 22.29,7.10 23.05,7.16 22.47,7.65 22.65,8.39 22.00,8.00 21.35,8.39 21.53,7.65 20.95,7.16 21.71,7.10" fill="#fff"/><polygon points="17.00,7.40 17.29,8.10 18.05,8.16 17.47,8.65 17.65,9.39 17.00,8.99 16.35,9.39 16.53,8.65 15.95,8.16 16.71,8.10" fill="#fff"/><polygon points="19.50,11.90 19.79,12.60 20.55,12.66 19.97,13.15 20.15,13.89 19.50,13.49 18.85,13.89 19.03,13.15 18.45,12.66 19.21,12.60" fill="#fff"/></svg><div class="city" style="letter-spacing:0.89px">SYDNEY</div><div class="cost">3,45<span class="d">–</span>4,86 €</div><div class="band"><i class="bar" style="left:10.0px;width:32.7px"></i><i class="dot" style="left:39.2px"></i><b class="lbl" style="left:49.8px">52 €</b></div></div>
<div class="row" style="top:1212px"><svg class="flag" width="26" height="16" viewBox="0 0 26 16"><rect width="26" height="8" fill="#f0f0f2"/><rect y="8" width="26" height="8" fill="#f24b56"/><polygon points="0,0 12,8 0,16" fill="#41479b"/></svg><div class="city" style="letter-spacing:0.70px">PRAGA</div><div class="cost">1,57<span class="d">–</span>3,15 €</div><div class="band"><i class="bar" style="left:10.0px;width:29.2px"></i><i class="dot" style="left:21.5px"></i><i class="dot" style="left:35.7px"></i><b class="lbl" style="left:45.4px">24–47 €</b></div></div>
<div class="row" style="top:1248px"><svg class="flag" width="26" height="16" viewBox="0 0 26 16"><rect x="0" y="0.00" width="26" height="5.35" fill="#f24b56"/><rect x="0" y="5.33" width="26" height="5.35" fill="#41479b"/><rect x="0" y="10.67" width="26" height="5.35" fill="#f0f0f2"/><path d="M6 3 L10 3 L10 9 Q10 12 8 12.8 Q6 12 6 9 Z" fill="#f24b56" stroke="#fff" stroke-width="0.6"/><rect x="7.4" y="5" width="1.2" height="5" fill="#fff"/></svg><div class="city" style="letter-spacing:0.58px">BELGRAD</div><div class="cost">0,26<span class="d">–</span>0,48 €</div><div class="band"><i class="bar" style="left:10.0px;width:29.0px"></i><i class="dot" style="left:35.5px"></i><b class="lbl" style="left:45.7px">47 €</b></div></div>
<div class="row" style="top:1284px"><svg class="flag" width="26" height="16" viewBox="0 0 26 16"><rect width="26" height="16" fill="#41479b"/><rect width="13" height="8" fill="#41479b"/><path d="M0 0 L13 8 M13 0 L0 8" stroke="#fff" stroke-width="1.6"/><path d="M0 0 L13 8 M13 0 L0 8" stroke="#f24b56" stroke-width="0.5714285714285714"/><rect x="5.166666666666667" y="0" width="2.6666666666666665" height="8" fill="#fff"/><rect x="0" y="2.666666666666667" width="13" height="2.6666666666666665" fill="#fff"/><rect x="5.7" y="0" width="1.6" height="8" fill="#f24b56"/><rect x="0" y="3.2" width="13" height="1.6" fill="#f24b56"/><polygon points="19.50,2.20 19.84,3.03 20.74,3.10 20.06,3.68 20.26,4.55 19.50,4.08 18.74,4.55 18.94,3.68 18.26,3.10 19.16,3.03" fill="#f24b56"/><polygon points="22.50,5.80 22.82,6.56 23.64,6.63 23.01,7.17 23.21,7.97 22.50,7.54 21.79,7.97 21.99,7.17 21.36,6.63 22.18,6.56" fill="#f24b56"/><polygon points="17.00,6.30 17.32,7.06 18.14,7.13 17.51,7.67 17.71,8.47 17.00,8.04 16.29,8.47 16.49,7.67 15.86,7.13 16.68,7.06" fill="#f24b56"/><polygon points="19.50,11.10 19.87,11.99 20.83,12.07 20.10,12.69 20.32,13.63 19.50,13.13 18.68,13.63 18.90,12.69 18.17,12.07 19.13,11.99" fill="#f24b56"/></svg><div class="city" style="letter-spacing:0.86px">AUCKLAND</div><div class="cost">0,92<span class="d">–</span>3,07 €</div><div class="band"><i class="bar" style="left:10.0px;width:26.7px"></i><i class="dot" style="left:33.2px"></i><b class="lbl" style="left:43.5px">43 €</b></div></div>
<div class="row" style="top:1320px"><svg class="flag" width="26" height="16" viewBox="0 0 26 16"><rect x="0" y="0.00" width="26" height="5.35" fill="#ffd03a"/><rect x="0" y="5.33" width="26" height="5.35" fill="#6da544"/><rect x="0" y="10.67" width="26" height="5.35" fill="#f24b56"/></svg><div class="city" style="letter-spacing:1.42px">VILNIUS</div><div class="cost">0,30<span class="d">–</span>2,50 €</div><div class="band"><i class="bar" style="left:13.6px;width:23.7px"></i><i class="dot" style="left:10.1px"></i><i class="dot" style="left:33.8px"></i><b class="lbl" style="left:44.9px">7,2–43 €</b></div></div>
<div class="row" style="top:1356px"><svg class="flag" width="26" height="16" viewBox="0 0 26 16"><rect x="0" y="0.00" width="26" height="5.35" fill="#f0f0f2"/><rect x="0" y="5.33" width="26" height="5.35" fill="#41479b"/><rect x="0" y="10.67" width="26" height="5.35" fill="#f24b56"/><path d="M5 3.5 L11 3.5 L11 8.5 Q11 11.5 8 12.5 Q5 11.5 5 8.5 Z" fill="#f24b56" stroke="#fff" stroke-width="0.7"/><rect x="7.4" y="5" width="1.2" height="5.5" fill="#fff"/><rect x="6" y="6.5" width="4" height="1" fill="#fff"/><path d="M5.5 11 Q8 9 10.5 11" fill="#41479b"/></svg><div class="city" style="letter-spacing:1.12px">BRATISLAVA</div><div class="cost">1,40 €</div><div class="band"><i class="bar" style="left:10.0px;width:23.7px"></i><i class="dot" style="left:30.2px"></i><b class="lbl" style="left:40.8px">39 €</b></div></div>
<div class="row" style="top:1392px"><svg class="flag" width="26" height="16" viewBox="0 0 26 16"><rect width="26" height="16" fill="#4fbfd6"/><rect x="1.5" y="0" width="1.2" height="16" fill="#e8c640" opacity="0.8"/><circle cx="14" cy="7.5" r="3" fill="#ffd03a"/><path d="M9 10.5 Q14 13 19 10.5" stroke="#ffd03a" stroke-width="1" fill="none"/></svg><div class="city" style="letter-spacing:1.17px">NUR-SULTAN</div><div class="cost">0,20 €</div><div class="band"><i class="bar" style="left:10.0px;width:22.9px"></i><i class="dot" style="left:29.4px"></i><b class="lbl" style="left:40.0px">37 €</b></div></div>
<div class="row" style="top:1428px"><svg class="flag" width="26" height="16" viewBox="0 0 26 16"><rect x="0" y="0.00" width="26" height="5.35" fill="#f0f0f2"/><rect x="0" y="5.33" width="26" height="5.35" fill="#41479b"/><rect x="0" y="10.67" width="26" height="5.35" fill="#f24b56"/></svg><div class="city" style="letter-spacing:1.20px">MOSCOVA</div><div class="cost">0,48<span class="d">–</span>4,57 €</div><div class="band"><i class="bar" style="left:10.0px;width:21.8px"></i><i class="dot" style="left:28.3px"></i><b class="lbl" style="left:38.4px">36 €</b></div></div>
<div class="row" style="top:1464px"><svg class="flag" width="26" height="16" viewBox="0 0 26 16"><rect x="0" y="0.00" width="26" height="4.02" fill="#f24b56"/><rect x="0" y="4.00" width="26" height="8.02" fill="#ffcf3a"/><rect x="0" y="12.00" width="26" height="4.02" fill="#f24b56"/><path d="M5.5 10 L5.5 7 L7 5.5 L8.5 7 L8.5 10 Z" fill="#464655"/><rect x="6.2" y="8" width="1.6" height="2" fill="#ffcf3a"/></svg><div class="city" style="letter-spacing:1.29px">MADRID</div><div class="cost">0,90<span class="d">–</span>1,20 €</div><div class="band"><i class="bar" style="left:10.0px;width:14.8px"></i><i class="dot" style="left:21.3px"></i><b class="lbl" style="left:31.8px">24,6 €</b></div></div>
<div class="row" style="top:1500px"><svg class="flag" width="26" height="16" viewBox="0 0 26 16"><rect x="0" y="0.00" width="26" height="5.35" fill="#333"/><rect x="0" y="5.33" width="26" height="5.35" fill="#d80027"/><rect x="0" y="10.67" width="26" height="5.35" fill="#ffda44"/></svg><div class="city" style="letter-spacing:0.75px">BERLIN</div><div class="cost">1,00<span class="d">–</span>3,00 €</div><div class="band"><i class="bar" style="left:10.0px;width:5.5px"></i><i class="dot" style="left:12.0px"></i><b class="lbl" style="left:23.1px">10,2 €</b></div></div>
<div class="row" style="top:1536px"><svg class="flag" width="26" height="16" viewBox="0 0 26 16"><rect x="0.00" y="0" width="8.69" height="16" fill="#464655"/><rect x="8.67" y="0" width="8.69" height="16" fill="#ffe15a"/><rect x="17.33" y="0" width="8.69" height="16" fill="#f24b56"/></svg><div class="city" style="letter-spacing:0.45px">BRUXELLES</div><div class="cost">1,00<span class="d">–</span>2,00 €</div><div class="band"><i class="bar" style="left:10.0px;width:5.5px"></i><i class="dot" style="left:12.0px"></i><b class="lbl" style="left:22.6px">10 €</b></div></div>
<div class="row" style="top:1572px"><svg class="flag" width="26" height="16" viewBox="0 0 26 16"><rect x="0" y="0.00" width="26" height="1.80" fill="#41479b"/><rect x="0" y="1.78" width="26" height="1.80" fill="#f0f0f2"/><rect x="0" y="3.56" width="26" height="1.80" fill="#41479b"/><rect x="0" y="5.33" width="26" height="1.80" fill="#f0f0f2"/><rect x="0" y="7.11" width="26" height="1.80" fill="#41479b"/><rect x="0" y="8.89" width="26" height="1.80" fill="#f0f0f2"/><rect x="0" y="10.67" width="26" height="1.80" fill="#41479b"/><rect x="0" y="12.44" width="26" height="1.80" fill="#f0f0f2"/><rect x="0" y="14.22" width="26" height="1.80" fill="#41479b"/><rect width="9" height="8.9" fill="#41479b"/><rect x="3.6" width="1.8" height="8.9" fill="#f0f0f2"/><rect y="3.55" width="9" height="1.8" fill="#f0f0f2"/></svg><div class="city" style="letter-spacing:1.30px">ATENA</div><div class="cost">1,00 €</div><div class="band"><i class="bar" style="left:10.0px;width:5.5px"></i><i class="dot" style="left:12.0px"></i><b class="lbl" style="left:22.6px">10 €</b></div></div>
<div class="row" style="top:1608px"><svg class="flag" width="26" height="16" viewBox="0 0 26 16"><rect x="0" y="0.00" width="26" height="5.35" fill="#f24b56"/><rect x="0" y="5.33" width="26" height="5.35" fill="#f0f0f2"/><rect x="0" y="10.67" width="26" height="5.35" fill="#6da544"/></svg><div class="city" style="letter-spacing:0.93px">BUDAPESTA</div><div class="cost">0,48<span class="d">–</span>1,44 €</div><div class="band"><i class="dot" style="left:9.8px"></i><b class="lbl" style="left:21.2px">5,5 €</b></div></div>
<div class="row" style="top:1644px"><svg class="flag" width="26" height="16" viewBox="0 0 26 16"><rect width="26" height="16" fill="#f24b56"/><path d="M10 3 L12 4.5 L13 3 L14 4.5 L16 3 L16.5 7 L15 8 L16 11 L14 10.5 L13 13 L12 10.5 L10 11 L11 8 L9.5 7 Z" fill="#333"/></svg><div class="city" style="letter-spacing:1.39px">TIRANA</div><div class="cost">0,16<span class="d">–</span>0,82 €</div><div class="band"><span class="ctr">Gratis</span></div></div>
<div class="row" style="top:1680px"><svg class="flag" width="26" height="16" viewBox="0 0 26 16"><rect x="0" y="0.00" width="26" height="5.35" fill="#6cacde"/><rect x="0" y="5.33" width="26" height="5.35" fill="#f0f0f2"/><rect x="0" y="10.67" width="26" height="5.35" fill="#6cacde"/><circle cx="13" cy="8" r="2" fill="#f0b840"/></svg><div class="city" style="letter-spacing:0.73px">BUENOS AIRES</div><div class="cost">0,26 €</div><div class="band"><span class="ctr">Gratis</span></div></div>
<div class="row" style="top:1716px"><svg class="flag" width="26" height="16" viewBox="0 0 26 16"><rect x="0.00" y="0" width="8.69" height="16" fill="#3f9a5a"/><rect x="8.67" y="0" width="8.69" height="16" fill="#f0f0f2"/><rect x="17.33" y="0" width="8.69" height="16" fill="#e03a30"/></svg><div class="city" style="letter-spacing:1.35px">ROMA</div><div class="cost">1,00<span class="d">–</span>1,20 €</div><div class="band"><span class="ctr">Gratis</span></div></div>
<div class="row" style="top:1752px"><svg class="flag" width="26" height="16" viewBox="0 0 26 16"><rect width="26" height="16" fill="#f24b56"/><g stroke="#ffda44" stroke-width="2.2"><path d="M0 0 L26 16 M26 0 L0 16 M13 0 L13 16 M0 8 L26 8"/></g><circle cx="13" cy="8" r="3" fill="#ffda44" stroke="#f24b56" stroke-width="0.8"/></svg><div class="city" style="letter-spacing:0.39px">SKOPJE</div><div class="cost">0,49<span class="d">–</span>1,62 €</div><div class="band"><span class="ctr">Gratis</span></div></div>
<div class="row" style="top:1788px"><svg class="flag" width="26" height="16" viewBox="0 0 26 16"><rect x="0.00" y="0" width="8.69" height="16" fill="#3f8a5a"/><rect x="8.67" y="0" width="8.69" height="16" fill="#f0f0f2"/><rect x="17.33" y="0" width="8.69" height="16" fill="#d0283a"/><circle cx="13" cy="8" r="2.2" fill="#7a5030"/><path d="M11 9.5 Q13 11 15 9.5" stroke="#3f8a5a" stroke-width="0.7" fill="none"/></svg><div class="city" style="letter-spacing:0.80px">CIUDAD DE MÉXICO</div><div class="cost">0,44 €</div><div class="band"><span class="ctr">Gratis</span></div></div>
<div class="row" style="top:1824px"><svg class="flag" width="26" height="16" viewBox="0 0 26 16"><rect width="26" height="16" fill="#f24b56"/><rect width="10" height="16" fill="#6da544"/><circle cx="10" cy="8" r="3.6" fill="#ffda44"/><circle cx="10" cy="8" r="2.2" fill="#f24b56"/><rect x="9" y="6.8" width="2" height="2.6" fill="#fff"/></svg><div class="city" style="letter-spacing:0.76px">LISABONA</div><div class="cost">0,80<span class="d">–</span>3,00 €</div><div class="band"><span class="ctr">Gratis</span></div></div>
<div class="row" style="top:1860px"><svg class="flag" width="26" height="16" viewBox="0 0 26 16"><rect x="0" y="0.00" width="26" height="5.35" fill="#d80027"/><rect x="0" y="5.33" width="26" height="5.35" fill="#0033a0"/><rect x="0" y="10.67" width="26" height="5.35" fill="#f2a800"/></svg><div class="city" style="letter-spacing:0.91px">EREVAN</div><div class="cost green">0,18 €</div><div class="gauge"><svg width="36" height="22" viewBox="0 0 36 22"><path d="M5 14.7 A13 13 0 0 1 31 14.7 L26 14.7 A9.5 9.5 0 0 0 7 14.7 Z" fill="#4f8d5d"/><circle cx="16.9" cy="15.1" r="2.4" fill="#4f8d5d"/><path d="M16.9 14.1 L8.8 12.0 L16.9 16.1 Z" fill="#4f8d5d" stroke="#4f8d5d" stroke-width="0.9" stroke-linejoin="round"/></svg></div><div class="band"><span class="ctr">Fără permis de parcare de reședință</span></div></div>
<div class="row" style="top:1896px"><svg class="flag" width="26" height="16" viewBox="0 0 26 16"><rect width="26" height="16" fill="#4aa657"/><rect width="26" height="10.7" fill="#d22730"/><rect width="3.5" height="16" fill="#fff"/><rect x="0.6" y="0" width="2.2" height="16" fill="#d22730"/></svg><div class="city" style="letter-spacing:1.38px">MINSK</div><div class="cost">0,35 €</div><div class="band"><span class="ctr">Fără permis de parcare de reședință</span></div></div>
<div class="row" style="top:1932px"><svg class="flag" width="26" height="16" viewBox="0 0 26 16"><rect width="26" height="16" fill="#f0f0f2"/><rect x="11.5" width="3" height="16" fill="#f24b56"/><rect y="6.5" width="26" height="3" fill="#f24b56"/><rect x="4.0" y="2.75" width="3" height="0.9" fill="#f24b56"/><rect x="5.05" y="1.7000000000000002" width="0.9" height="3" fill="#f24b56"/><rect x="19.0" y="2.75" width="3" height="0.9" fill="#f24b56"/><rect x="20.05" y="1.7000000000000002" width="0.9" height="3" fill="#f24b56"/><rect x="4.0" y="12.350000000000001" width="3" height="0.9" fill="#f24b56"/><rect x="5.05" y="11.3" width="0.9" height="3" fill="#f24b56"/><rect x="19.0" y="12.350000000000001" width="3" height="0.9" fill="#f24b56"/><rect x="20.05" y="11.3" width="0.9" height="3" fill="#f24b56"/></svg><div class="city" style="letter-spacing:1.07px">TBILISI</div><div class="cost">0,28<span class="d">–</span>0,84 €</div><div class="band"><span class="ctr">Fără permis de parcare de reședință</span></div></div>
<div class="row" style="top:1968px"><svg class="flag" width="26" height="16" viewBox="0 0 26 16"><rect width="26" height="16" fill="#e8112d"/><circle cx="13" cy="8" r="4.5" fill="#ffda44"/><circle cx="13" cy="8" r="2.5" fill="#ffda44" stroke="#e8112d" stroke-width="0.7"/></svg><div class="city" style="letter-spacing:0.55px">BIȘKEK</div><div class="cost">0,26 €</div><div class="band"><span class="ctr">Fără permis de parcare de reședință</span></div></div>
<div class="row" style="top:2004px"><svg class="flag" width="26" height="16" viewBox="0 0 26 16"><rect width="26" height="8" fill="#4a7ad0"/><rect y="8" width="26" height="8" fill="#ffd83a"/></svg><div class="city" style="letter-spacing:0.52px">KIEV</div><div class="cost">0,17<span class="d">–</span>1,16 €</div><div class="band"><span class="ctr">Fără permis de parcare de reședință</span></div></div>
<div class="row" style="top:2040px"><svg class="flag" width="26" height="16" viewBox="0 0 26 16"><rect x="0" y="0.00" width="26" height="1.25" fill="#f24b56"/><rect x="0" y="1.23" width="26" height="1.25" fill="#f0f0f2"/><rect x="0" y="2.46" width="26" height="1.25" fill="#f24b56"/><rect x="0" y="3.69" width="26" height="1.25" fill="#f0f0f2"/><rect x="0" y="4.92" width="26" height="1.25" fill="#f24b56"/><rect x="0" y="6.15" width="26" height="1.25" fill="#f0f0f2"/><rect x="0" y="7.38" width="26" height="1.25" fill="#f24b56"/><rect x="0" y="8.62" width="26" height="1.25" fill="#f0f0f2"/><rect x="0" y="9.85" width="26" height="1.25" fill="#f24b56"/><rect x="0" y="11.08" width="26" height="1.25" fill="#f0f0f2"/><rect x="0" y="12.31" width="26" height="1.25" fill="#f24b56"/><rect x="0" y="13.54" width="26" height="1.25" fill="#f0f0f2"/><rect x="0" y="14.77" width="26" height="1.25" fill="#f24b56"/><rect width="11.5" height="8.6" fill="#41479b"/><circle cx="1.3" cy="1.2" r="0.45" fill="#fff"/><circle cx="3.5" cy="1.2" r="0.45" fill="#fff"/><circle cx="5.7" cy="1.2" r="0.45" fill="#fff"/><circle cx="7.9" cy="1.2" r="0.45" fill="#fff"/><circle cx="10.1" cy="1.2" r="0.45" fill="#fff"/><circle cx="2.4" cy="2.8" r="0.45" fill="#fff"/><circle cx="4.6" cy="2.8" r="0.45" fill="#fff"/><circle cx="6.8" cy="2.8" r="0.45" fill="#fff"/><circle cx="9.0" cy="2.8" r="0.45" fill="#fff"/><circle cx="11.2" cy="2.8" r="0.45" fill="#fff"/><circle cx="1.3" cy="4.4" r="0.45" fill="#fff"/><circle cx="3.5" cy="4.4" r="0.45" fill="#fff"/><circle cx="5.7" cy="4.4" r="0.45" fill="#fff"/><circle cx="7.9" cy="4.4" r="0.45" fill="#fff"/><circle cx="10.1" cy="4.4" r="0.45" fill="#fff"/><circle cx="2.4" cy="6.0" r="0.45" fill="#fff"/><circle cx="4.6" cy="6.0" r="0.45" fill="#fff"/><circle cx="6.8" cy="6.0" r="0.45" fill="#fff"/><circle cx="9.0" cy="6.0" r="0.45" fill="#fff"/><circle cx="11.2" cy="6.0" r="0.45" fill="#fff"/><circle cx="1.3" cy="7.6" r="0.45" fill="#fff"/><circle cx="3.5" cy="7.6" r="0.45" fill="#fff"/><circle cx="5.7" cy="7.6" r="0.45" fill="#fff"/><circle cx="7.9" cy="7.6" r="0.45" fill="#fff"/><circle cx="10.1" cy="7.6" r="0.45" fill="#fff"/></svg><div class="city" style="letter-spacing:0.69px">NEW YORK</div><div class="cost">1,10<span class="d">–</span>3,95 €</div><div class="band"><span class="ctr">Fără permis de parcare de reședință</span></div></div>
<div class="notes">* Se oferă costul primei ore de parcare pe stradă în zona de parcare cu plată<br>** Parcare în cartierul cel mai apropiat de locul de reședință</div>
<div class="ftr"><div class="src">Sursă: Picodi.com. Prețuri la începutul lunii decembrie 2021.</div><div class="logo"><svg width="50" height="50" viewBox="0 0 1000 1000">
<g fill="none" stroke="#fff" stroke-width="28">
<path d="M410 115 Q170 200 135 430 Q130 620 300 720"/>
<path d="M430 150 Q280 260 270 430 Q270 560 320 640"/>
<path d="M465 175 Q560 230 640 195 Q640 130 660 110 Q770 230 760 400"/>
</g>
<path d="M250 210 Q330 120 430 110 L430 150 Q350 200 290 250 Z" fill="#fff"/>
<path d="M300 500 L560 440 Q580 300 650 290 Q720 300 710 400 L850 420 L905 520 L860 660 L345 770 Z" fill="#fff"/>
<path d="M300 790 L860 690 L905 780 L800 890 L300 830 Z" fill="#fff"/>
<text x="590" y="650" font-family="Liberation Sans, sans-serif" font-size="220" fill="#4468a9" text-anchor="middle" transform="rotate(-12 590 600)">%</text>
<circle cx="625" cy="325" r="15" fill="#4468a9"/><circle cx="820" cy="525" r="15" fill="#4468a9"/><circle cx="815" cy="765" r="15" fill="#4468a9"/>
</svg><span>picodi</span></div></div>
</div>
</body></html>
